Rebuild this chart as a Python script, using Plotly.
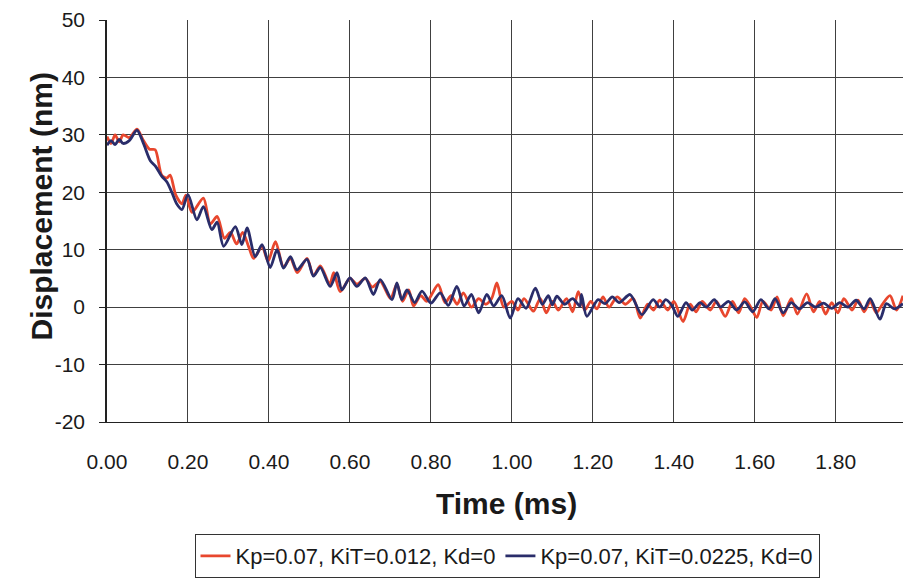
import plotly.graph_objects as go

# Series 1: Kp=0.07, KiT=0.012, Kd=0 (red)
t_red = [0.000, 0.010, 0.020, 0.030, 0.040, 0.055, 0.074, 0.090, 0.105, 0.119, 0.135, 0.148, 0.156,
         0.170, 0.185, 0.195, 0.210, 0.238, 0.255, 0.272, 0.290, 0.305, 0.320, 0.335, 0.350, 0.362,
         0.383, 0.398, 0.416, 0.436, 0.453, 0.470, 0.494, 0.510, 0.527, 0.550, 0.560, 0.576, 0.600,
         0.617, 0.638, 0.655, 0.675, 0.700, 0.716, 0.730, 0.745, 0.757, 0.775, 0.790, 0.818, 0.835,
         0.850, 0.865, 0.880, 0.900, 0.918, 0.935, 0.950, 0.963, 0.980, 1.000, 1.015, 1.030, 1.053,
         1.070, 1.085, 1.100, 1.115, 1.135, 1.150, 1.164, 1.180, 1.195, 1.210, 1.225, 1.240, 1.260,
         1.280, 1.300, 1.317, 1.335, 1.350, 1.365, 1.385, 1.400, 1.423, 1.440, 1.455, 1.470, 1.490,
         1.505, 1.527, 1.545, 1.560, 1.575, 1.590, 1.605, 1.620, 1.640, 1.655, 1.670, 1.690, 1.705,
         1.728, 1.745, 1.760, 1.775, 1.790, 1.805, 1.820, 1.840, 1.855, 1.870, 1.885, 1.900, 1.915,
         1.934, 1.950, 1.966]
v_red = [29.7, 28.5, 30.0, 28.8, 30.0, 29.5, 31.0, 29.0, 27.5, 27.4, 23.0, 22.5, 23.0,
         19.5, 18.0, 19.5, 16.5, 19.0, 14.5, 15.8, 12.0, 13.0, 11.0, 13.0, 10.5, 8.5,
         10.5, 8.0, 11.4, 7.0, 8.5, 6.0, 8.5, 5.5, 7.2, 4.0, 6.0, 2.7, 5.0,
         4.0, 5.0, 3.5, 4.5, 1.5, 4.0, 1.0, 3.0, 0.2, 2.0, 1.0, 3.9, 0.8,
         2.0, 0.5, 2.5, 0.0, 1.5, 0.5, 1.5, 4.2, 0.0, 1.0, -0.5, 1.5, -0.7,
         1.5, -1.0, 1.0, -0.5, 1.5, -0.8, 2.7, -0.5, 1.0, -0.3, 1.8, 0.0, 1.8,
         0.5, 1.5, -1.9, 0.5, -0.5, 1.2, -0.5, 1.0, -2.5, 0.5, -0.8, 1.0, -0.5,
         1.0, -1.6, 1.0, -1.0, 1.5, 0.0, -1.8, 1.0, -0.5, 1.8, -1.5, 1.5, -1.2,
         2.3, -0.8, 1.0, -1.2, 0.8, -1.0, 1.5, -0.5, 1.2, -0.8, 1.0, -1.0, 0.5,
         2.0, -0.5, 2.0]

# Series 2: Kp=0.07, KiT=0.0225, Kd=0 (dark blue)
t_blue = [0.000, 0.010, 0.020, 0.030, 0.040, 0.055, 0.074, 0.090, 0.107, 0.120, 0.135, 0.148, 0.160,
          0.172, 0.185, 0.200, 0.222, 0.238, 0.259, 0.272, 0.288, 0.317, 0.333, 0.346, 0.366, 0.383,
          0.403, 0.420, 0.436, 0.453, 0.469, 0.494, 0.510, 0.527, 0.551, 0.568, 0.580, 0.600, 0.617,
          0.638, 0.658, 0.675, 0.704, 0.716, 0.728, 0.741, 0.760, 0.778, 0.800, 0.823, 0.843, 0.864,
          0.882, 0.900, 0.918, 0.938, 0.955, 0.975, 0.996, 1.015, 1.035, 1.058, 1.075, 1.090, 1.100,
          1.111, 1.130, 1.150, 1.168, 1.172, 1.185, 1.213, 1.230, 1.248, 1.265, 1.292, 1.321, 1.349,
          1.365, 1.380, 1.395, 1.410, 1.430, 1.445, 1.465, 1.480, 1.500, 1.515, 1.535, 1.555, 1.575,
          1.595, 1.615, 1.635, 1.650, 1.670, 1.690, 1.710, 1.730, 1.750, 1.770, 1.790, 1.810, 1.830,
          1.850, 1.870, 1.885, 1.909, 1.925, 1.945, 1.966]
v_blue = [28.2, 29.0, 28.3, 29.2, 28.5, 29.0, 30.8, 28.5, 25.5, 24.5, 22.8, 21.8, 20.0,
          18.0, 17.0, 19.6, 15.2, 17.5, 13.5, 14.8, 10.6, 14.0, 10.9, 13.8, 8.8, 10.9,
          6.9, 10.0, 6.8, 8.8, 6.5, 8.3, 5.4, 6.9, 3.6, 6.0, 3.0, 5.1, 3.6,
          5.1, 2.2, 4.8, 1.3, 4.2, 1.3, 3.0, 0.8, 2.8, 0.7, 2.5, 0.3, 3.6,
          0.2, 2.2, -1.0, 2.2, 0.2, 2.0, -1.9, 1.5, -0.2, 3.3, 0.5, 2.0, 0.4,
          1.9, 0.5, 1.5, 0.2, 2.2, -1.6, 1.3, 0.6, 1.8, 0.8, 2.2, -1.3, 1.3,
          0.0, 1.3, 0.3, -1.6, 0.8, -0.5, 0.8, 0.0, 1.3, 0.0, 1.0, -0.5, 0.9,
          -0.8, 1.3, -0.3, 1.5, -1.0, 0.8, -0.3, 0.8, 0.0, 0.7, -0.2, 0.8, 0.0,
          1.2, -0.3, 1.5, -2.1, 0.6, -0.3, 0.6]

x_ticks = [0.0, 0.2, 0.4, 0.6, 0.8, 1.0, 1.2, 1.4, 1.6, 1.8]
x_tick_labels = ["0.00", "0.20", "0.40", "0.60", "0.80", "1.00", "1.20", "1.40", "1.60", "1.80"]
y_ticks = [-20, -10, 0, 10, 20, 30, 40, 50]
y_tick_labels = ["-20", "-10", "0", "10", "20", "30", "40", "50"]

RED = "#E8472E"
BLUE = "#2A2D6A"
FONT = "Liberation Sans, Arial, sans-serif"

L, R, T, B = 107, 0, 20, 157
W, H = 903, 579
plot_w = W - L - R
plot_h = H - T - B

fig = go.Figure()
fig.add_trace(go.Scatter(x=t_red, y=v_red, mode="lines", name="Kp=0.07, KiT=0.012, Kd=0",
                         line=dict(color=RED, width=2.8, shape="spline", smoothing=0.8)))
fig.add_trace(go.Scatter(x=t_blue, y=v_blue, mode="lines", name="Kp=0.07, KiT=0.0225, Kd=0",
                         line=dict(color=BLUE, width=2.8, shape="spline", smoothing=0.8)))

fig.update_layout(
    width=W, height=H,
    margin=dict(l=L, r=R, t=T, b=B, autoexpand=False),
    paper_bgcolor="white", plot_bgcolor="white",
    font=dict(family=FONT, size=21, color="#1a1a1a"),
    showlegend=True,
    legend=dict(orientation="h", x=(507 - L) / plot_w, xanchor="center",
                yref="container", y=1 - 534 / H, yanchor="top",
                bordercolor="#333", borderwidth=1, font=dict(size=22, family=FONT),
                itemwidth=30, tracegroupgap=0, bgcolor="white"),
    xaxis=dict(range=[0, 1.966], tickvals=x_ticks, ticktext=x_tick_labels,
               showgrid=True, gridcolor="#404040", gridwidth=1.4,
               showline=True, linecolor="#222", linewidth=1.4, mirror=False,
               ticks="", zeroline=False, tickfont=dict(size=21), ticklabelstandoff=21),
    yaxis=dict(range=[-20, 50], tickvals=y_ticks, ticktext=y_tick_labels,
               showgrid=True, gridcolor="#404040", gridwidth=1.4,
               showline=True, linecolor="#222", linewidth=1.5,
               ticks="outside", ticklen=6, tickcolor="#222", zeroline=False,
               tickfont=dict(size=21), ticklabelstandoff=10),
    annotations=[
        dict(text="<b>Time (ms)</b>", x=(507 - L) / plot_w, xref="paper",
             y=(H - B - 503) / plot_h, yref="paper", yanchor="middle",
             showarrow=False, font=dict(size=30, family=FONT)),
        dict(text="<b>Displacement (nm)</b>", x=(22 - L) / plot_w,
             y=(H - B - 207) / plot_h, xref="paper", yref="paper",
             showarrow=False, textangle=-90, font=dict(size=30, family=FONT)),
    ],
)

fig.write_html("out.html")
